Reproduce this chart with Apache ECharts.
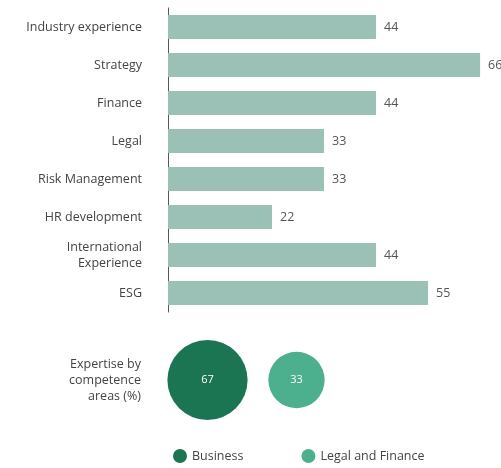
<!DOCTYPE html>
<html><head><meta charset="utf-8">
<script src="https://cdn.jsdelivr.net/npm/echarts@6/dist/echarts.min.js"></script>
<style>html,body{margin:0;padding:0;background:#fff}#c{width:501px;height:468px}</style>
</head><body><div id="c"></div>
<script>
const categories = ["Industry experience","Strategy","Finance","Legal","Risk Management","HR development","International\nExperience","ESG"];
const values = [44,66,44,33,33,22,44,55];
const areaNames = ["Business","Legal and Finance"];
const areaValues = [67,33];
const areaLabel = "Expertise by\ncompetence\nareas (%)";
const font = "Open Sans";
const chart = echarts.init(document.getElementById('c'));
chart.setOption({
  textStyle:{fontFamily:font},
  grid:[{left:168,right:2,top:8,height:304},{left:163,width:178,top:340,height:80}],
  xAxis:[
    {gridIndex:0,type:'value',min:0,max:70,show:false},
    {gridIndex:1,type:'category',data:areaNames,show:false}
  ],
  yAxis:[
    {gridIndex:0,type:'category',data:categories,inverse:true,offset:13,
     axisLine:{show:true,lineStyle:{color:'#555',width:1}},axisTick:{show:false},
     axisLabel:{color:'#444',fontSize:12.5,margin:13,lineHeight:16,fontFamily:font}},
    {gridIndex:1,type:'category',data:[areaLabel],axisLine:{show:false},axisTick:{show:false},
     axisLabel:{color:'#444',fontSize:12.5,margin:22,lineHeight:16,align:'right',fontFamily:font}}
  ],
  legend:{left:168,top:444,itemGap:58,icon:'circle',itemWidth:14,itemHeight:14,
    textStyle:{color:'#444',fontSize:12.5,fontFamily:font},data:areaNames},
  series:[
    {type:'bar',xAxisIndex:0,yAxisIndex:0,data:values,barWidth:24,itemStyle:{color:'#9bc1b7'},
     label:{show:true,position:'right',distance:8,color:'#555',fontSize:12.5}},
    {name:areaNames[0],type:'scatter',xAxisIndex:1,yAxisIndex:1,data:[[areaNames[0],areaLabel,areaValues[0]]],
     symbolSize:d=>Math.sqrt(d[2])*9.8,itemStyle:{color:'#1b7553',opacity:1},
     label:{show:true,formatter:p=>p.value[2],color:'#fff',fontSize:11}},
    {name:areaNames[1],type:'scatter',xAxisIndex:1,yAxisIndex:1,data:[[areaNames[1],areaLabel,areaValues[1]]],
     symbolSize:d=>Math.sqrt(d[2])*9.8,itemStyle:{color:'#4caf8e',opacity:1},
     label:{show:true,formatter:p=>p.value[2],color:'#fff',fontSize:11}}
  ]
});
</script></body></html>
